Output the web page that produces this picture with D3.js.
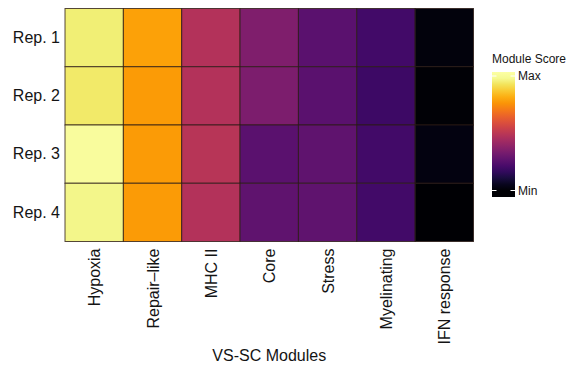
<!DOCTYPE html>
<html>
<head>
<meta charset="utf-8">
<script src="https://cdn.jsdelivr.net/npm/d3@7"></script>
<style>
  html, body { margin: 0; padding: 0; background: #fff; }
  svg { display: block; font-family: "Liberation Sans", Arial, sans-serif; }
</style>
</head>
<body>
<svg id="chart" width="575" height="366"></svg>
<script>
// VS-SC module scores per replicate (scaled 0 = Min, 1 = Max)
const modules = ["Hypoxia", "Repair\u2013like", "MHC II", "Core", "Stress", "Myelinating", "IFN response"];
const replicates = ["Rep. 1", "Rep. 2", "Rep. 3", "Rep. 4"];
const rep1Scores = [0.95, 0.79, 0.48, 0.35, 0.26, 0.20, 0.02];
const rep2Scores = [0.94, 0.78, 0.48, 0.34, 0.26, 0.19, 0.01];
const rep3Scores = [0.99, 0.78, 0.49, 0.26, 0.27, 0.20, 0.03];
const rep4Scores = [0.97, 0.78, 0.48, 0.27, 0.27, 0.20, 0.00];
const legendBreaks = [0, 1];
const legendLabels = ["Min", "Max"];

const scoresByRep = [rep1Scores, rep2Scores, rep3Scores, rep4Scores];
const cells = [];
replicates.forEach((rep, i) => {
  modules.forEach((mod, j) => cells.push({ rep, mod, value: scoresByRep[i][j] }));
});

const svg = d3.select("#chart");
const plot = { left: 65, top: 8.5, width: 408.5, height: 233 };
const textColor = "#141414";

const x = d3.scaleBand().domain(modules).range([plot.left, plot.left + plot.width]);
const y = d3.scaleBand().domain(replicates).range([plot.top, plot.top + plot.height]);
const color = d3.scaleSequential(d3.interpolateInferno).domain([0, 1]);

// heatmap tiles
svg.append("g")
  .selectAll("rect")
  .data(cells)
  .join("rect")
  .attr("x", d => x(d.mod))
  .attr("y", d => y(d.rep))
  .attr("width", x.bandwidth())
  .attr("height", y.bandwidth())
  .attr("fill", d => color(d.value))
  .attr("stroke", "#2a1a14")
  .attr("stroke-opacity", 0.8)
  .attr("stroke-width", 1);

// y axis (replicates)
const yAxis = svg.append("g")
  .attr("transform", `translate(${plot.left},0)`)
  .call(d3.axisLeft(y).tickSize(0).tickPadding(5));
yAxis.select(".domain").remove();
yAxis.selectAll("text")
  .attr("font-size", 16)
  .attr("fill", textColor)
  .attr("font-family", "Liberation Sans, Arial, sans-serif");

// x axis (modules), labels rotated vertically
const xAxis = svg.append("g")
  .attr("transform", `translate(0,${plot.top + plot.height})`)
  .call(d3.axisBottom(x).tickSize(0).tickPadding(0));
xAxis.select(".domain").remove();
xAxis.selectAll("text")
  .attr("font-size", 16)
  .attr("fill", textColor)
  .attr("font-family", "Liberation Sans, Arial, sans-serif")
  .attr("text-anchor", "end")
  .attr("dy", null)
  .attr("transform", "translate(6,7) rotate(-90)")
  .attr("x", 0)
  .attr("y", 0);

// x axis title
svg.append("text")
  .attr("x", plot.left + plot.width / 2)
  .attr("y", 361)
  .attr("text-anchor", "middle")
  .attr("font-size", 16)
  .attr("fill", textColor)
  .text("VS-SC Modules");

// colour bar legend
const bar = { x: 492, y: 72, width: 23, height: 125 };
const legendY = d3.scaleLinear().domain([0, 1]).range([bar.y + bar.height - 6.5, bar.y + 4]);

svg.append("text")
  .attr("x", bar.x)
  .attr("y", 63)
  .attr("font-size", 12)
  .attr("fill", textColor)
  .text("Module Score");

const defs = svg.append("defs");
const grad = defs.append("linearGradient")
  .attr("id", "scoreGradient")
  .attr("x1", 0).attr("y1", 1).attr("x2", 0).attr("y2", 0);
const v0 = legendY.invert(bar.y + bar.height);
const v1 = legendY.invert(bar.y);
d3.range(0, 1.0001, 0.05).forEach(t => {
  const v = Math.max(0, Math.min(1, v0 + t * (v1 - v0)));
  grad.append("stop").attr("offset", t).attr("stop-color", color(v));
});

svg.append("rect")
  .attr("x", bar.x)
  .attr("y", bar.y)
  .attr("width", bar.width)
  .attr("height", bar.height)
  .attr("fill", "url(#scoreGradient)");

const legendTicks = svg.append("g");
legendBreaks.forEach(b => {
  const ty = legendY(b);
  legendTicks.append("line")
    .attr("x1", bar.x).attr("x2", bar.x + 4.5)
    .attr("y1", ty).attr("y2", ty)
    .attr("stroke", "#fff").attr("stroke-width", 1);
  legendTicks.append("line")
    .attr("x1", bar.x + bar.width - 4.5).attr("x2", bar.x + bar.width)
    .attr("y1", ty).attr("y2", ty)
    .attr("stroke", "#fff").attr("stroke-width", 1);
});

svg.append("g")
  .selectAll("text")
  .data(legendBreaks)
  .join("text")
  .attr("x", bar.x + bar.width + 3)
  .attr("y", d => legendY(d))
  .attr("dy", "0.36em")
  .attr("font-size", 12)
  .attr("fill", textColor)
  .text((d, i) => legendLabels[i]);
</script>
</body>
</html>
